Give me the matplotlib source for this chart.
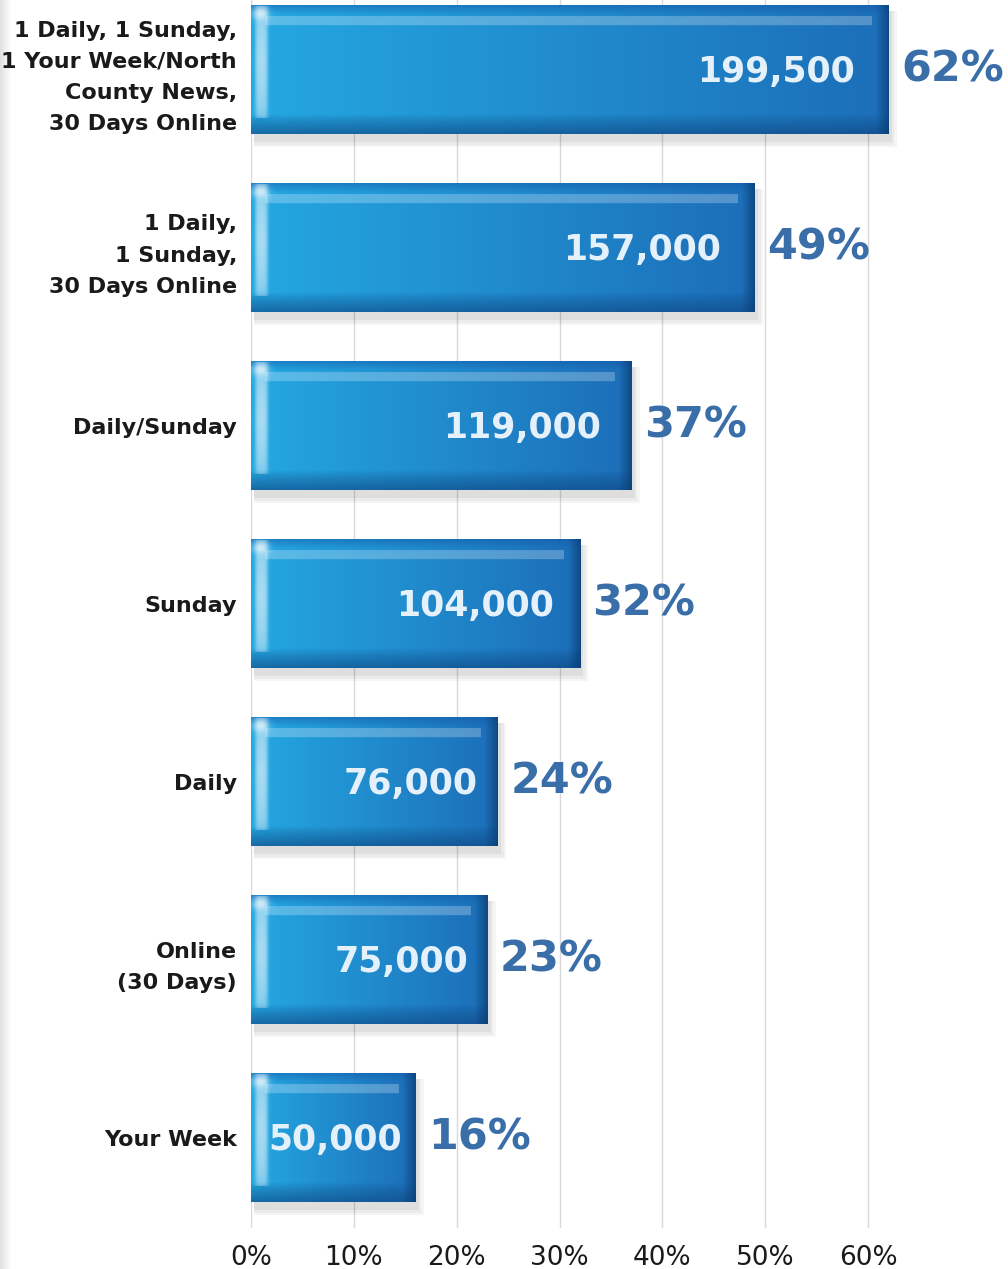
import numpy as np
import matplotlib.pyplot as plt
from matplotlib.patches import Rectangle

# chart data
categories = ['1 Daily, 1 Sunday,\n1 Your Week/North\nCounty News,\n30 Days Online',
              '1 Daily,\n1 Sunday,\n30 Days Online',
              'Daily/Sunday',
              'Sunday',
              'Daily',
              'Online\n(30 Days)',
              'Your Week']
readers = [199500, 157000, 119000, 104000, 76000, 75000, 50000]
percents = [62, 49, 37, 32, 24, 23, 16]
xticks = [0, 10, 20, 30, 40, 50, 60]

W, H = 1008, 1269
PX_PER_UNIT = 102.86 / 10   # pixels per percent, used for gradient resolution
BAR_H = 0.72


def bar_image(w, h):
    # glossy blue bar: left->right gradient with dark edges and highlights
    w = max(int(w), 20)
    h = int(h)
    t = np.linspace(0, 1, w)[None, :, None]
    left = np.array([36, 168, 226]) / 255
    right = np.array([28, 110, 184]) / 255
    img = np.ones((h, w, 3)) * (left * (1 - t) + right * t)

    yy = np.arange(h)[:, None]
    xx = np.arange(w)[None, :]

    # top band darker
    top = np.clip(1 - yy / 9, 0, 1)[..., None]
    img = img * (1 - 0.45 * top) + np.array([18, 85, 165]) / 255 * 0.45 * top
    # bottom band darker
    bot = np.clip((yy - (h - 20)) / 20, 0, 1)[..., None] ** 0.8
    img = img * (1 - 0.65 * bot) + np.array([14, 70, 130]) / 255 * 0.65 * bot
    # right edge darker
    rgt = np.clip((xx - (w - 14)) / 14, 0, 1)[..., None]
    img = img * (1 - 0.75 * rgt) + np.array([10, 58, 112]) / 255 * 0.75 * rgt

    # top highlight line
    hl = ((yy >= 11) & (yy <= 19) & (xx >= 14) & (xx <= w - 18)).astype(float)[..., None]
    img = img * (1 - 0.25 * hl) + 0.25 * hl
    # left highlight strip
    lx = np.exp(-((xx - 10) / 6.5) ** 4)
    ly = np.clip(1 - np.abs(yy - (h - 16) / 2) / ((h - 16) / 2), 0, 1) ** 0.15
    lh = (lx * ly)[..., None]
    img = img * (1 - 0.6 * lh) + 0.6 * lh
    # corner glow
    cg = np.exp(-(((xx - 9) / 8.0) ** 2 + ((yy - 8) / 6.0) ** 2))[..., None]
    img = img * (1 - 0.6 * cg) + 0.6 * cg
    return np.clip(img, 0, 1)


fig = plt.figure(figsize=(W / 100, H / 100), dpi=100)

# light grey strip on the left edge
strip = fig.add_axes([0, 0, 12 / W, 1])
strip.imshow(np.linspace(0.88, 1.0, 12)[None, :], cmap='gray', vmin=0, vmax=1,
             aspect='auto', extent=(0, 1, 0, 1))
strip.axis('off')

ax = fig.add_axes([251 / W, 1 - 1228 / H, 720 / W, 1228 / H])

for i, (val, pct, n) in enumerate(zip(percents, percents, readers)):
    # soft shadow
    for k, a in enumerate([0.05, 0.04, 0.04]):
        d = 0.3 + 0.25 * k
        ax.add_patch(Rectangle((0.3, i - BAR_H / 2 + 0.03), val + d - 0.3, BAR_H + 0.015 * (k + 1),
                               color='black', alpha=a, lw=0, zorder=1))
    img = bar_image(val * PX_PER_UNIT, 128)
    ax.imshow(img, extent=(0, val, i + BAR_H / 2, i - BAR_H / 2), aspect='auto',
              interpolation='bilinear', zorder=3)
    off = min(3.3, 0.08 * val)
    ax.text(val - off, i + 0.01, f'{n:,}', ha='right', va='center', color='#e4f0fa',
            fontsize=25, fontweight='bold', zorder=4)
    ax.text(val + 1.2, i, f'{pct}%', ha='left', va='center', color='#3a6ea8',
            fontsize=31, fontweight='bold', zorder=4)

ax.set_xlim(0, 70)
ax.set_ylim(len(categories) - 1 + 0.506, -0.393)
ax.set_xticks(xticks)
ax.set_xticklabels([f'{v}%' for v in xticks], fontsize=19, color='#1a1a1a')
ax.set_yticks(range(len(categories)))
ax.set_yticklabels(categories, fontsize=16, fontweight='bold', color='#1a1a1a',
                   linespacing=1.7)
ax.tick_params(axis='y', length=0, pad=10)
ax.tick_params(axis='x', length=0, pad=12)
ax.grid(axis='x', color='#d9d9d9', lw=1, zorder=0)
ax.set_axisbelow(True)
for s in ax.spines.values():
    s.set_visible(False)

fig.savefig('out.png', dpi=100)
